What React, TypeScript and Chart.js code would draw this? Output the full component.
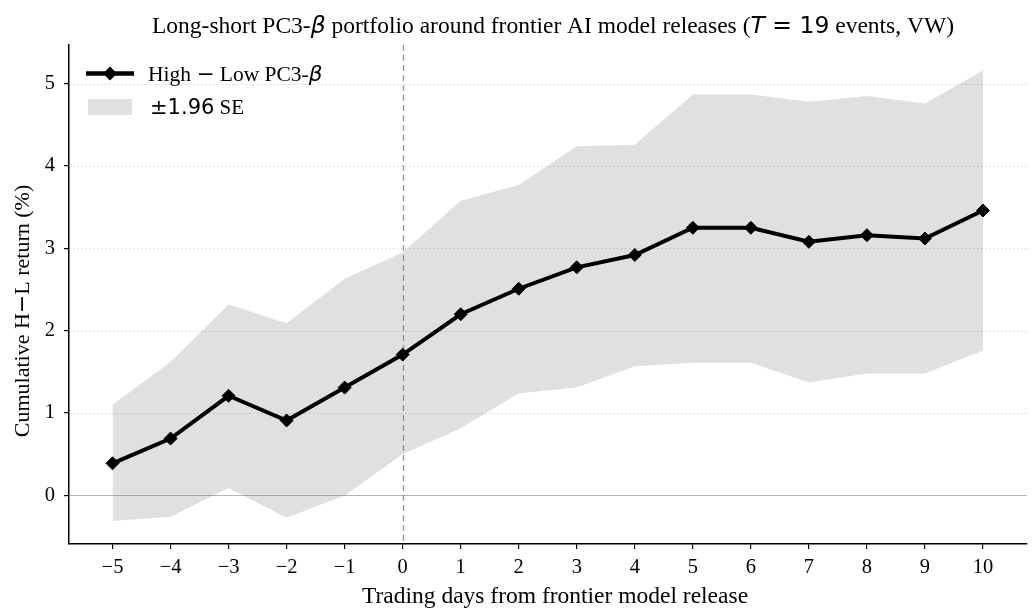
import React, { useEffect, useRef } from 'react';
import { Chart, registerables } from 'chart.js';

Chart.register(...registerables);

const days = [-5, -4, -3, -2, -1, 0, 1, 2, 3, 4, 5, 6, 7, 8, 9, 10];
const hlReturn = [0.39, 0.69, 1.21, 0.91, 1.31, 1.71, 2.2, 2.51, 2.77, 2.92, 3.25, 3.25, 3.08, 3.16, 3.12, 3.46];
const upperBand = [1.1, 1.62, 2.32, 2.09, 2.63, 2.95, 3.58, 3.77, 4.24, 4.26, 4.87, 4.87, 4.78, 4.85, 4.76, 5.16];
const lowerBand = [-0.31, -0.26, 0.09, -0.27, 0.0, 0.5, 0.815, 1.24, 1.31, 1.57, 1.61, 1.61, 1.37, 1.48, 1.48, 1.76];
const yTicks = [0, 1, 2, 3, 4, 5];

const SERIF = '"Liberation Serif", "Times New Roman", serif';
const MATH = '"DejaVu Sans", sans-serif';

type Seg = { text: string; font: string };

function drawSegs(ctx: CanvasRenderingContext2D, segs: Seg[], x: number, y: number, align: 'left' | 'center') {
  let total = 0;
  const widths = segs.map((s) => {
    ctx.font = s.font;
    const w = ctx.measureText(s.text).width;
    total += w;
    return w;
  });
  let cx = align === 'center' ? x - total / 2 : x;
  ctx.textAlign = 'left';
  ctx.textBaseline = 'alphabetic';
  segs.forEach((s, i) => {
    ctx.font = s.font;
    ctx.fillText(s.text, cx, y);
    cx += widths[i];
  });
}

function fmt(v: number) {
  return v < 0 ? '\u2212' + Math.abs(v) : String(v);
}

export default function App() {
  const ref = useRef<HTMLCanvasElement>(null);

  useEffect(() => {
    document.body.style.margin = '0';
    const canvas = ref.current;
    if (!canvas) return;

    const decor = {
      id: 'decor',
      beforeDatasetDraw(chart: any, args: any) {
        if (args.index !== 0) return;
        const { ctx, chartArea } = chart;
        const xs = chart.scales.x;
        const ys = chart.scales.y;
        ctx.save();
        yTicks.forEach((t) => {
          const py = Math.round(ys.getPixelForValue(t)) + 0.5;
          ctx.beginPath();
          if (t === 0) {
            ctx.setLineDash([]);
            ctx.strokeStyle = 'rgba(128,128,128,0.6)';
            ctx.lineWidth = 1.2;
          } else {
            ctx.setLineDash([1.5, 2.5]);
            ctx.strokeStyle = 'rgba(0,0,0,0.16)';
            ctx.lineWidth = 1;
          }
          ctx.moveTo(chartArea.left, py);
          ctx.lineTo(chartArea.right, py);
          ctx.stroke();
        });
        const px = Math.round(xs.getPixelForValue(0)) + 0.5;
        ctx.setLineDash([6, 4]);
        ctx.strokeStyle = 'rgba(128,128,128,0.85)';
        ctx.lineWidth = 1.3;
        ctx.beginPath();
        ctx.moveTo(px, chartArea.top);
        ctx.lineTo(px, chartArea.bottom);
        ctx.stroke();
        ctx.restore();
      },
      afterDraw(chart: any) {
        const { ctx } = chart;
        ctx.save();
        ctx.fillStyle = '#000';
        // title
        drawSegs(
          ctx,
          [
            { text: 'Long-short PC3-', font: `23.5px ${SERIF}` },
            { text: '\u03B2', font: `oblique 23.5px ${MATH}` },
            { text: ' portfolio around frontier AI model releases (', font: `23.5px ${SERIF}` },
            { text: 'T', font: `oblique 23.5px ${MATH}` },
            { text: ' = 19', font: `23.5px ${MATH}` },
            { text: ' events, VW)', font: `23.5px ${SERIF}` },
          ],
          553,
          33,
          'center'
        );
        // x axis title
        drawSegs(ctx, [{ text: 'Trading days from frontier model release', font: `23.5px ${SERIF}` }], 555, 603, 'center');
        // y axis title
        ctx.save();
        ctx.translate(29, 311);
        ctx.rotate(-Math.PI / 2);
        drawSegs(
          ctx,
          [
            { text: 'Cumulative H', font: `22px ${SERIF}` },
            { text: '\u2212', font: `22px ${MATH}` },
            { text: 'L return (%)', font: `22px ${SERIF}` },
          ],
          0,
          0,
          'center'
        );
        ctx.restore();

        // legend
        ctx.strokeStyle = '#000';
        ctx.lineWidth = 4.5;
        ctx.setLineDash([]);
        ctx.beginPath();
        ctx.moveTo(86, 73.5);
        ctx.lineTo(134, 73.5);
        ctx.stroke();
        ctx.beginPath();
        ctx.moveTo(110 - 7, 73.5);
        ctx.lineTo(110, 73.5 - 7);
        ctx.lineTo(110 + 7, 73.5);
        ctx.lineTo(110, 73.5 + 7);
        ctx.closePath();
        ctx.fillStyle = '#000';
        ctx.fill();
        drawSegs(
          ctx,
          [
            { text: 'High ', font: `21.5px ${SERIF}` },
            { text: '\u2212', font: `21.5px ${MATH}` },
            { text: ' Low PC3-', font: `21.5px ${SERIF}` },
            { text: '\u03B2', font: `oblique 21.5px ${MATH}` },
          ],
          148,
          81,
          'left'
        );
        ctx.fillStyle = '#e0e0e0';
        ctx.fillRect(88, 99, 44, 16);
        ctx.fillStyle = '#000';
        drawSegs(
          ctx,
          [
            { text: '\u00B11.96', font: `21px ${MATH}` },
            { text: ' SE', font: `21px ${SERIF}` },
          ],
          150,
          114,
          'left'
        );
        ctx.restore();
      },
    };

    const chart = new Chart(canvas, {
      type: 'line',
      data: {
        datasets: [
          {
            label: 'High \u2212 Low PC3-\u03B2',
            data: days.map((d, i) => ({ x: d, y: hlReturn[i] })),
            borderColor: '#000',
            backgroundColor: '#000',
            borderWidth: 4,
            pointStyle: 'rectRot',
            pointRadius: 6.5,
            pointBorderWidth: 1,
            pointBackgroundColor: '#000',
            pointBorderColor: '#000',
            fill: false,
            tension: 0,
          },
          {
            label: 'upper',
            data: days.map((d, i) => ({ x: d, y: upperBand[i] })),
            borderWidth: 0,
            pointRadius: 0,
            backgroundColor: '#e0e0e0',
            borderColor: 'rgba(0,0,0,0)',
            fill: '+1',
            tension: 0,
          },
          {
            label: 'lower',
            data: days.map((d, i) => ({ x: d, y: lowerBand[i] })),
            borderWidth: 0,
            pointRadius: 0,
            backgroundColor: '#e0e0e0',
            borderColor: 'rgba(0,0,0,0)',
            fill: false,
            tension: 0,
          },
        ],
      },
      options: {
        animation: false,
        responsive: false,
        devicePixelRatio: 1,
        layout: { padding: { top: 45, right: 4, left: 0, bottom: 0 } },
        plugins: {
          legend: { display: false },
          title: { display: false },
          tooltip: { enabled: false },
        },
        scales: {
          x: {
            type: 'linear',
            min: -5.75,
            max: 10.75,
            afterBuildTicks: (s: any) => {
              s.ticks = days.map((v) => ({ value: v }));
            },
            afterFit: (s: any) => {
              s.height = 64;
            },
            grid: { drawOnChartArea: false, color: '#000', tickLength: 5, lineWidth: 1.2 },
            border: { color: '#000', width: 1.5 },
            ticks: {
              font: { family: SERIF, size: 20.5 },
              color: '#000',
              padding: 6,
              maxRotation: 0,
              autoSkip: false,
              callback: (v: any) => fmt(Number(v)),
            },
          },
          y: {
            type: 'linear',
            min: -0.59,
            max: 5.47,
            afterBuildTicks: (s: any) => {
              s.ticks = yTicks.map((v) => ({ value: v }));
            },
            afterFit: (s: any) => {
              s.width = 69;
            },
            grid: { drawOnChartArea: false, color: '#000', tickLength: 5, lineWidth: 1.2 },
            border: { color: '#000', width: 1.5 },
            ticks: {
              font: { family: SERIF, size: 20.5 },
              color: '#000',
              padding: 9,
              callback: (v: any) => fmt(Number(v)),
            },
          },
        },
      },
      plugins: [decor],
    } as any);

    return () => chart.destroy();
  }, []);

  return (
    <div style={{ width: 1034, height: 608 }}>
      <canvas ref={ref} width={1034} height={608} style={{ display: 'block' }} />
    </div>
  );
}
